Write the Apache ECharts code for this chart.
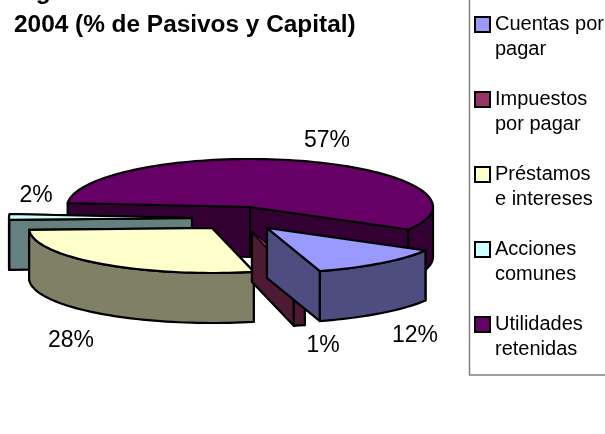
<!DOCTYPE html>
<html><head><meta charset="utf-8">
<style>html,body{margin:0;padding:0;background:#fff;overflow:hidden}#c{width:605px;height:434px}</style>
<script src="https://cdn.jsdelivr.net/npm/echarts@6/dist/echarts.min.js"></script>
</head><body><div id="c"></div>
<script>
const categories = ['Cuentas por\npagar','Impuestos\npor pagar','Préstamos\ne intereses','Acciones\ncomunes','Utilidades\nretenidas'];
const values = [12,1,28,2,57];
const colors = ['#9999FF','#993366','#FFFFCC','#CCFFFF','#660066'];
const wallColors = ['#4D4D80','#4D1A33','#808066','#668080','#330033'];

// presentation settings for the fake 3D projection
const firstSliceAngle = 120, cx = 250, cy = 207, rx = 183, ryBack = 48, ryFront = 45, depth = 50;
const explode = [[17,21],[2,25],[-38,21],[-58,11],[0,0]];
const paintOrder = [6,5,4,3,2];
const labelPos = [[415,336],[323,346],[71,341],[36,196],[327,141]];

const total = values.reduce((a,b)=>a+b,0);
let acc = firstSliceAngle;
const angles = values.map(v=>{const s=acc; acc+=v/total*360; return [s,acc];});
const rad = d=>d*Math.PI/180;

function pt(t,off,d){
  const c=Math.cos(rad(t));
  return [cx+off[0]+rx*Math.sin(rad(t)), cy+off[1]-(c>0?ryBack:ryFront)*c+d];
}
function arc(a,b,off,d){
  const n=Math.max(2,Math.ceil(Math.abs(b-a)/2)),r=[];
  for(let i=0;i<=n;i++) r.push(pt(a+(b-a)*i/n,off,d));
  return r;
}
function poly(points,fill,lw){return {type:'polygon',shape:{points},silent:true,
  style:{fill,stroke:'#000',lineWidth:lw||2.2,lineJoin:'round'}};}

function renderSlice(idx){
  return function(){
    const [s,e]=angles[idx], off=explode[idx], wall=wallColors[idx], apex=[cx+off[0],cy+off[1]];
    const apexB=[apex[0],apex[1]+depth], kids=[];
    // cut faces: the one further back is painted first
    const faces=[s,e].sort((a,b)=>pt(a,off,0)[1]-pt(b,off,0)[1]);
    for(const t of faces){
      kids.push(poly([apex,pt(t,off,0),pt(t,off,depth),apexB],wall));
    }
    for(let k=0;k<2;k++){
      const a=Math.max(s,90+360*k), b=Math.min(e,270+360*k);
      if(b>a) kids.push(poly(arc(a,b,off,0).concat(arc(b,a,off,depth)),wall));
    }
    kids.push(poly([apex].concat(arc(s,e,off,0)),colors[idx],values[idx]<2?0.8:2.2));
    return {type:'group',children:kids};
  };
}

const series = categories.map((name,i)=>({
  type:'custom',name,coordinateSystem:'none',z:paintOrder[i],silent:true,
  data:[values[i]],
  itemStyle:{color:colors[i]},
  renderItem:renderSlice(i)
}));

const chart = echarts.init(document.getElementById('c'),null,{renderer:'canvas'});
chart.setOption({
  animation:false,
  backgroundColor:'#fff',
  title:{text:'Figura\n2004 (% de Pasivos y Capital)',left:14,top:-24,padding:0,
    textStyle:{fontFamily:'Liberation Sans',fontWeight:'bold',fontSize:24.4,color:'#000',lineHeight:33}},
  legend:{orient:'vertical',left:474,top:-13,padding:0,itemGap:0,itemWidth:15,itemHeight:15,icon:'rect',
    data:categories,selectedMode:false,
    itemStyle:{borderColor:'#000',borderWidth:2},
    textStyle:{fontFamily:'Liberation Sans',fontSize:20,color:'#000',lineHeight:25},
    formatter:n=>'\n'+n},
  graphic:[{type:'rect',z:0,silent:true,shape:{x:469.5,y:-5,width:200,height:380},style:{fill:'#fff',stroke:'#808080',lineWidth:1.5}}]
    .concat(values.map((v,i)=>({type:'text',z:20,silent:true,x:labelPos[i][0],y:labelPos[i][1],
      style:{text:v+'%',align:'center',verticalAlign:'middle',fontFamily:'Liberation Sans',fontSize:23,fill:'#000'}}))),
  series
});
</script></body></html>
